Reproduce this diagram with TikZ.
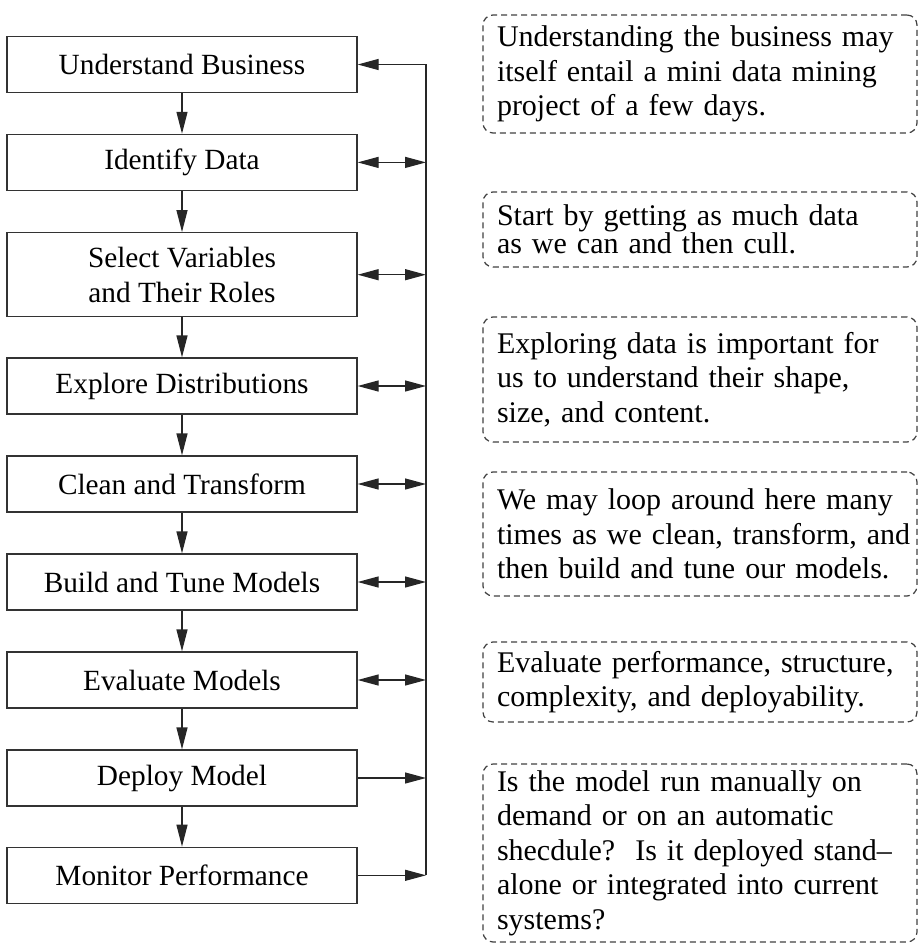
\documentclass[tikz,border=0pt]{standalone}
\usepackage{fontspec}
\setmainfont{Liberation Serif}
\usetikzlibrary{arrows.meta}
\hfuzz=30pt
\begin{document}
\begin{tikzpicture}[x=1pt,y=-1pt,
  stepbox/.style={draw=black!80, line width=1.3pt, minimum width=350pt, minimum height=56pt,
    align=center, inner sep=0pt, font=\fontsize{29.3}{34.7}\selectfont},
  notebox/.style={draw=black!75, line width=1.2pt, dash pattern=on 6pt off 4pt, rounded corners=10pt,
    minimum width=434pt, text width=406pt, inner xsep=14pt, inner ysep=0pt, align=left,
    font=\fontsize{30}{34.5}\selectfont},
  flow/.style={draw=black!85, line width=1.3pt, -{Triangle[length=22pt,width=11pt]}},
  fb/.style={draw=black!85, line width=1.3pt},
  tip/.tip={Triangle[length=21pt,width=11pt]}
]
\useasboundingbox (0,0) rectangle (918,945);

% process boxes
\node[stepbox] (b1) at (182,64.5) {Understand Business};
\node[stepbox] (b2) at (182,162.4) {Identify Data};
\node[stepbox, minimum height=84pt] (b3) at (182,274.7) {Select Variables\\and Their Roles};
\node[stepbox] (b4) at (182,386) {Explore Distributions};
\node[stepbox] (b5) at (182,484) {Clean and Transform};
\node[stepbox] (b6) at (182,582) {Build and Tune Models};
\node[stepbox] (b7) at (182,680) {Evaluate Models};
\node[stepbox] (b8) at (182,778) {Deploy Model};
\node[stepbox] (b9) at (182,875.3) {Monitor Performance};

% downward flow
\draw[flow] (b1) -- (b2);
\draw[flow] (b2) -- (b3);
\draw[flow] (b3) -- (b4);
\draw[flow] (b4) -- (b5);
\draw[flow] (b5) -- (b6);
\draw[flow] (b6) -- (b7);
\draw[flow] (b7) -- (b8);
\draw[flow] (b8) -- (b9);

% feedback line
\coordinate (top) at (426,64.5);
\coordinate (bot) at (426,875.3);
\draw[fb, -tip] (bot) -- (top) -- (b1.east);
\draw[fb, tip-tip] (b2.east) -- (b2.east -| top);
\draw[fb, tip-tip] (b3.east) -- (b3.east -| top);
\draw[fb, tip-tip] (b4.east) -- (b4.east -| top);
\draw[fb, tip-tip] (b5.east) -- (b5.east -| top);
\draw[fb, tip-tip] (b6.east) -- (b6.east -| top);
\draw[fb, tip-tip] (b7.east) -- (b7.east -| top);
\draw[fb, -tip] (b8.east) -- (b8.east -| top);
\draw[fb, -tip] (b9.east) -- (bot);

% notes
\node[notebox, minimum height=118pt] (n1) at (700,74) {\mbox{Understanding the business may}\\\mbox{itself entail a mini data mining}\\project of a few days.};
\node[notebox, minimum height=75pt, font=\fontsize{30}{27}\selectfont] (n2) at (700,229.5) {Start by getting as much data\\as we can and then cull.};
\node[notebox, minimum height=125pt] (n3) at (700,379.5) {\mbox{Exploring data is important for}\\us to understand their shape,\\size, and content.};
\node[notebox, minimum height=124pt] (n4) at (700,534) {\mbox{We may loop around here many}\\\mbox{times as we clean, transform, and}\\\mbox{then build and tune our models.}};
\node[notebox, minimum height=80pt] (n5) at (700,682) {\mbox{Evaluate performance, structure,}\\\mbox{complexity, and deployability.}};
\node[notebox, minimum height=178pt] (n6) at (700,853) {Is the model run manually on\\demand or on an automatic\\\mbox{shecdule?\ \ Is it deployed stand--}\\\mbox{alone or integrated into current}\\systems?};
\end{tikzpicture}
\end{document}
